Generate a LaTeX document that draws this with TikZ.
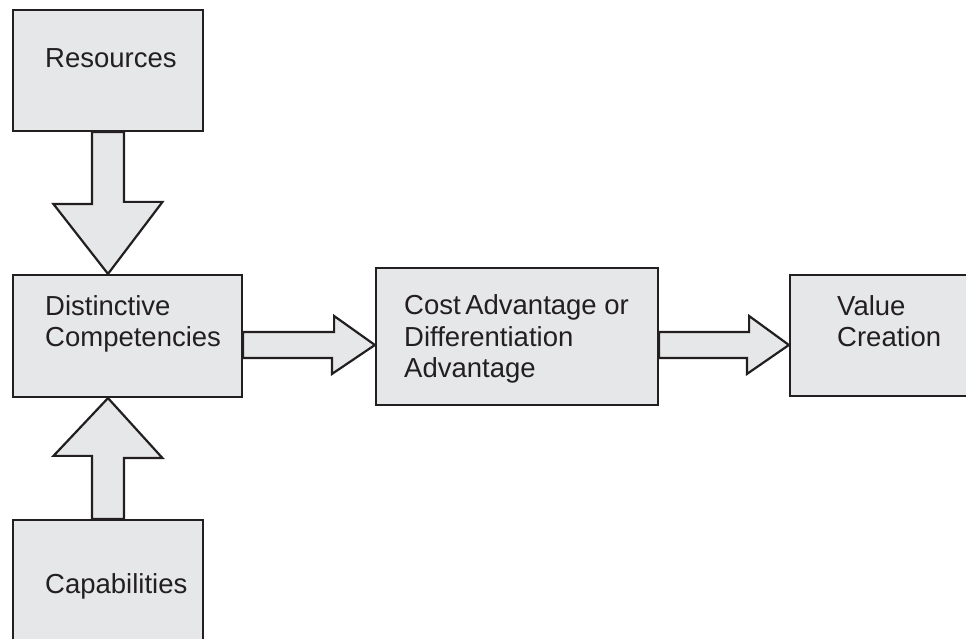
\documentclass[tikz,border=0pt]{standalone}
\usepackage{fontspec}
\setmainfont{Liberation Sans}
\definecolor{boxgray}{HTML}{E6E7E8}
\definecolor{ink}{HTML}{231F20}
\tikzset{
  box/.style={draw=ink, fill=boxgray, line width=2.2pt, inner sep=0pt},
  blk/.style={draw=ink, fill=boxgray, line width=2.2pt, line join=miter},
  txt/.style={text=ink, inner sep=0pt, align=left, font=\fontsize{27.5}{31.5}\selectfont}
}
\begin{document}
\begin{tikzpicture}[x=1pt,y=1pt]
  \useasboundingbox (0,0) rectangle (966,639);
  \clip (0,0) rectangle (966,639);
  % boxes
  \node[box, minimum width=190, minimum height=121] (res) at (108,568.5) {};
  \node[box, minimum width=229, minimum height=122] (dist) at (127.5,303) {};
  \node[box, minimum width=282, minimum height=137] (cost) at (517,302.5) {};
  \node[box, minimum width=220, minimum height=121] (val) at (900,303.5) {};
  \node[box, minimum width=190, minimum height=150] (cap) at (108,44) {};
  % texts (base = last line)
  \node[txt, anchor=base west] (restxt) at (45,571) {Resources};
  \node[txt, anchor=base west] (disttxt) at (45,292) {Distinctive\\Competencies};
  \node[txt, anchor=base west] (costtxt) at (404,261) {Cost\,Advantage or\\Differentiation\\Advantage};
  \node[txt, anchor=base west] (valtxt) at (837,292) {Value\\Creation};
  \node[txt, anchor=base west] (captxt) at (45,45) {Capabilities};
  % block arrows
  \draw[blk] ([xshift=-16pt]res.south) -- ++(0,-72) -- ++(-38.5,0) -- (res.south |- dist.north)
    -- ++(54.5,72) -- ++(-38.5,0) -- ([xshift=16pt]res.south) -- cycle; % down
  \draw[blk] ([xshift=-16pt]cap.north) -- ++(0,63) -- ++(-38.5,0) -- (cap.north |- dist.south)
    -- ++(54.5,-60) -- ++(-38.5,0) -- ([xshift=16pt]cap.north) -- cycle; % up
  \coordinate (a1) at ([yshift=-9pt]dist.east);
  \draw[blk] ([yshift=13pt]a1) -- ++(91,0) -- ++(0,16) -- (a1 -| cost.west)
    -- ++(-43,-29) -- ++(0,16) -- ([yshift=-13pt]a1) -- cycle;
  \coordinate (a2) at ([yshift=-8.5pt]cost.east);
  \draw[blk] ([yshift=13pt]a2) -- ++(90,0) -- ++(0,16) -- (a2 -| val.west)
    -- ++(-42,-29) -- ++(0,16) -- ([yshift=-13pt]a2) -- cycle;
\end{tikzpicture}
\end{document}
